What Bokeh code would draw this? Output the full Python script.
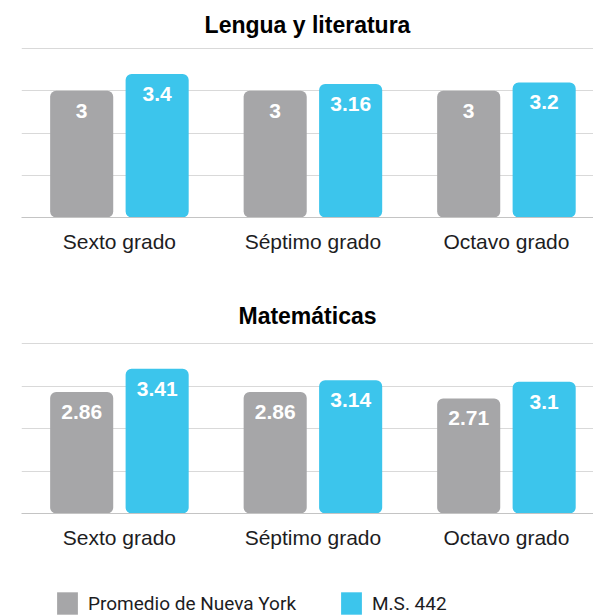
from bokeh.plotting import figure
from bokeh.models import Range1d, ColumnDataSource, FixedTicker, Legend, LegendItem
from bokeh.layouts import column
from bokeh.transform import dodge
from bokeh.core.properties import value
from bokeh.embed import file_html
from bokeh.resources import INLINE

categories = ["Sexto grado", "Séptimo grado", "Octavo grado"]
series = ["Promedio de Nueva York", "M.S. 442"]
lengua_nyc = [3, 3, 3]
lengua_ms442 = [3.4, 3.16, 3.2]
mate_nyc = [2.86, 2.86, 2.71]
mate_ms442 = [3.41, 3.14, 3.1]
y_ticks = [0, 1, 2, 3, 4]

GRAY = "#a6a6a8"
BLUE = "#3cc5ec"
FONT = "Liberation Sans"


def panel(title, nyc, ms, height, border_top, border_bottom, standoff):
    src = ColumnDataSource(dict(
        x=list(range(len(categories))), nyc=nyc, ms=ms,
        nyc_lbl=[f"{v:g}" for v in nyc], ms_lbl=[f"{v:g}" for v in ms]))
    p = figure(width=593, height=height, x_range=Range1d(-0.506, 2.45),
               y_range=Range1d(0, 4.05), output_backend="svg", toolbar_location=None,
               min_border_left=21, min_border_right=0, min_border_top=border_top,
               min_border_bottom=border_bottom, title=title)
    p.title.align = "center"
    p.title.text_font = FONT
    p.title.text_font_size = "23px"
    p.title.text_font_style = "bold"
    p.title.text_color = "#000000"
    p.title.standoff = standoff
    p.outline_line_color = None
    p.yaxis.visible = False
    p.xgrid.visible = False
    p.ygrid.ticker = FixedTicker(ticks=y_ticks)
    p.ygrid.grid_line_color = "#d9d9d9"
    ax = p.xaxis[0]
    ax.ticker = FixedTicker(ticks=list(range(len(categories))))
    ax.major_label_overrides = {i: c for i, c in enumerate(categories)}
    ax.axis_line_color = "#c4c4c4"
    ax.major_tick_line_color = None
    ax.minor_tick_line_color = None
    ax.major_tick_out = 0
    ax.major_tick_in = 0
    ax.major_label_standoff = 12
    ax.major_label_text_font = FONT
    ax.major_label_text_font_size = "21px"
    ax.major_label_text_color = "#1d1d1f"

    for off, col, c, lbl in ((-0.195, "nyc", GRAY, "nyc_lbl"), (0.195, "ms", BLUE, "ms_lbl")):
        xs = dodge("x", off, range=p.x_range)
        p.vbar(x=xs, top=col, bottom=0, width=0.326, source=src, fill_color=c,
               line_color=None, border_radius=6)
        p.text(x=xs, y=col, text=lbl, source=src, text_align="center",
               text_baseline="top", y_offset=13, text_color="white",
               text_font=value(FONT), text_font_style="bold", text_font_size="21px")
    return p


p1 = panel("Lengua y literatura", lengua_nyc, lengua_ms442, 270, 45, 53, 18)
p2 = panel("Matemáticas", mate_nyc, mate_ms442, 290, 71, 47, 25)

lf = figure(width=593, height=55, output_backend="svg", toolbar_location=None,
            x_range=Range1d(0, 1), y_range=Range1d(0, 1),
            x_axis_location=None, y_axis_location=None,
            min_border_left=0, min_border_right=0, min_border_top=0, min_border_bottom=0)
lf.grid.visible = False
lf.outline_line_color = None
r1 = lf.vbar(x=[0], top=[0], bottom=[0], width=0, fill_color=GRAY, line_color=None)
r2 = lf.vbar(x=[0], top=[0], bottom=[0], width=0, fill_color=BLUE, line_color=None)
legend = Legend(items=[LegendItem(label=series[0], renderers=[r1]),
                       LegendItem(label=series[1], renderers=[r2])],
                orientation="horizontal", location=(33, -2), glyph_width=26,
                glyph_height=28, label_standoff=8, spacing=42, padding=0, margin=0,
                border_line_color=None, background_fill_alpha=0,
                label_text_font="Roboto", label_text_font_size="19px",
                label_text_color="#1d1d1f")
lf.add_layout(legend, "center")

layout = column(p1, p2, lf, spacing=0)
open("out.html", "w").write(file_html(layout, INLINE))
